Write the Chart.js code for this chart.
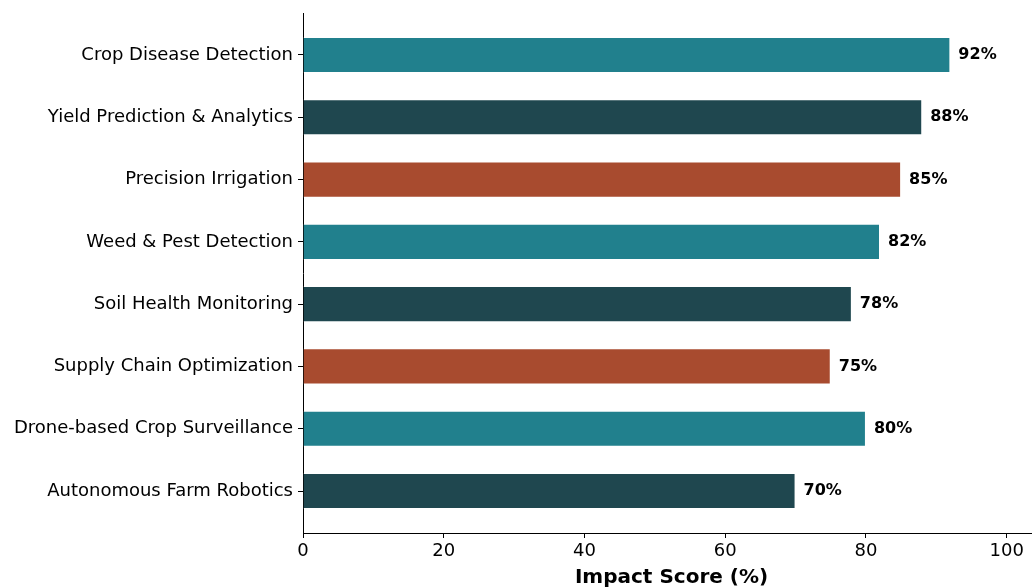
<!DOCTYPE html>
<html>
<head>
<meta charset="utf-8">
<script src="https://cdn.jsdelivr.net/npm/chart.js@4"></script>
<style>
  html, body { margin: 0; padding: 0; background: #fff; }
  #wrap { width: 1032px; height: 588px; position: relative; }
</style>
</head>
<body>
<div id="wrap"><canvas id="chart"></canvas></div>
<script>
// data
const categories = [
    'Crop Disease Detection',
    'Yield Prediction & Analytics',
    'Precision Irrigation',
    'Weed & Pest Detection',
    'Soil Health Monitoring',
    'Supply Chain Optimization',
    'Drone-based Crop Surveillance',
    'Autonomous Farm Robotics'
];
const scores = [92, 88, 85, 82, 78, 75, 80, 70];
const barColors = ['#21808d', '#1f474f', '#a84b2f', '#21808d', '#1f474f', '#a84b2f', '#21808d', '#1f474f'];
const xTicks = [0, 20, 40, 60, 80, 100];
const xTitle = 'Impact Score (%)';

const FONT = "'DejaVu Sans', sans-serif";

// value labels + axis title
const labelPlugin = {
    id: 'labels',
    afterDatasetsDraw(chart) {
        const ctx = chart.ctx;
        const meta = chart.getDatasetMeta(0);
        ctx.save();
        ctx.fillStyle = '#000';
        ctx.font = 'bold 16px ' + FONT;
        ctx.textAlign = 'left';
        ctx.textBaseline = 'middle';
        meta.data.forEach(function(bar, i) {
            ctx.fillText(scores[i] + '%', bar.x + 8, bar.y);
        });
        ctx.restore();
    },
    afterDraw(chart) {
        const ctx = chart.ctx;
        const area = chart.chartArea;
        ctx.save();
        ctx.fillStyle = '#000';
        ctx.font = 'bold 20px ' + FONT;
        ctx.textAlign = 'center';
        ctx.textBaseline = 'middle';
        ctx.fillText(xTitle, (area.left + area.right) / 2 + 4, 578);
        ctx.restore();
    }
};

new Chart(document.getElementById('chart'), {
    type: 'bar',
    data: {
        datasets: [{
            data: scores.map(function(v, i) { return { x: v, y: i }; }),
            backgroundColor: barColors,
            borderColor: 'rgba(255,255,255,0.5)',
            borderWidth: 1,
            barPercentage: 0.58,
            categoryPercentage: 1
        }]
    },
    options: {
        indexAxis: 'y',
        responsive: true,
        maintainAspectRatio: false,
        animation: false,
        layout: { padding: { top: 13, right: 0, left: 0, bottom: 0 } },
        plugins: {
            legend: { display: false },
            tooltip: { enabled: false }
        },
        scales: {
            x: {
                type: 'linear',
                min: 0,
                max: 103.6,
                afterBuildTicks: function(scale) {
                    scale.ticks = xTicks.map(function(v) { return { value: v }; });
                },
                afterFit: function(scale) {
                    scale.height = 55;
                    scale.paddingRight = 0;
                    scale.paddingLeft = 0;
                },
                border: { display: true, color: '#000', width: 1 },
                grid: { drawOnChartArea: false, drawTicks: true, tickLength: 5, color: '#000' },
                ticks: { color: '#000', font: { family: FONT, size: 18 }, padding: 3, maxRotation: 0 }
            },
            y: {
                type: 'linear',
                reverse: true,
                offset: false,
                min: -0.674,
                max: 7.674,
                afterBuildTicks: function(scale) {
                    scale.ticks = categories.map(function(c, i) { return { value: i }; });
                },
                afterFit: function(scale) {
                    scale.width = 303;
                    scale.paddingTop = 0;
                    scale.paddingBottom = 0;
                },
                border: { display: true, color: '#000', width: 1 },
                grid: { offset: false, drawOnChartArea: false, drawTicks: true, tickLength: 5, color: '#000' },
                ticks: {
                    color: '#000',
                    font: { family: FONT, size: 18 },
                    padding: 5,
                    autoSkip: false,
                    callback: function(v) { return categories[v]; }
                }
            }
        }
    },
    plugins: [labelPlugin]
});
</script>
</body>
</html>
